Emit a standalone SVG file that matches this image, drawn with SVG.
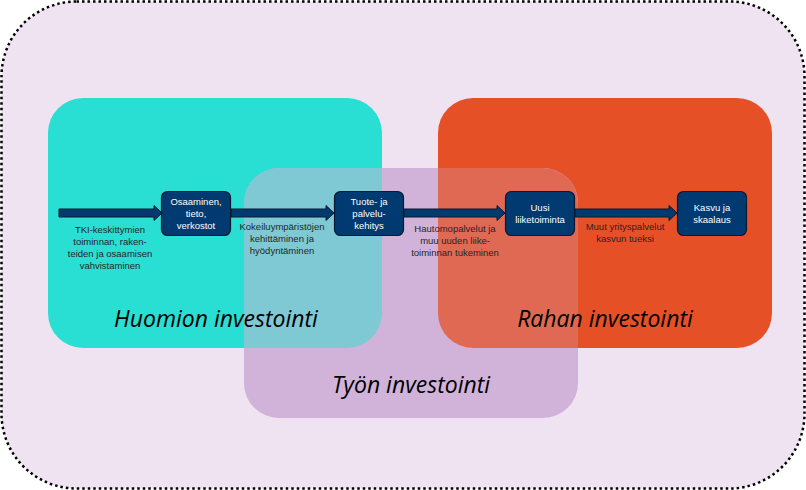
<svg xmlns="http://www.w3.org/2000/svg" width="806" height="490" viewBox="0 0 806 490">
<style>
.node{fill:#003A70;stroke:#0a1a2e;stroke-width:1.2}
.nt{font-family:"Liberation Sans",Arial,sans-serif;font-size:9.5px;fill:#ffffff;text-anchor:middle}
.lt{font-family:"Liberation Sans",Arial,sans-serif;font-size:9.5px;fill:#262626;text-anchor:middle}
.big{font-family:"Open Sans","Liberation Sans",sans-serif;font-style:italic;font-size:23px;fill:#000;text-anchor:middle}
.arr{fill:#003A70;stroke:#0a1a2e;stroke-width:1}
</style>
<defs>
<clipPath id="clipCyan"><rect x="48" y="98" width="334" height="250" rx="35"/></clipPath>
<clipPath id="clipOrange"><rect x="438" y="98" width="334" height="250" rx="35"/></clipPath>
</defs>
<g id="background">
<rect x="1.5" y="1.5" width="803" height="487" rx="75" ry="75" fill="#EFE3F1" stroke="#000" stroke-width="2.5" stroke-dasharray="2.5 3"/>
</g>
<g id="areas">
<rect id="huomion" x="48" y="98" width="334" height="250" rx="35" fill="#29DED3"/>
<rect id="rahan" x="438" y="98" width="334" height="250" rx="35" fill="#E65026"/>
<g id="tyon">
<rect x="244" y="168" width="334" height="250" rx="35" fill="#D1B3D9"/>
<rect x="244" y="168" width="334" height="250" rx="35" fill="#7FC9D5" clip-path="url(#clipCyan)"/>
<rect x="244" y="168" width="334" height="250" rx="35" fill="#E06953" clip-path="url(#clipOrange)"/>
</g>
</g>
<g id="connectors">
<path class="arr" d="M59,209 H154 V205.5 L162,213 L154,220.5 V217 H59 Z"/>
<path class="arr" d="M231,209 H326 V205.5 L334,213 L326,220.5 V217 H231 Z"/>
<path class="arr" d="M404,209 H497 V205.5 L505,213 L497,220.5 V217 H404 Z"/>
<path class="arr" d="M575,209 H669 V205.5 L677,213 L669,220.5 V217 H575 Z"/>
</g>
<g id="labels">
<text class="lt" x="110" y="233">TKI-keskittymien</text>
<text class="lt" x="110" y="245">toiminnan, raken-</text>
<text class="lt" x="110" y="257">teiden ja osaamisen</text>
<text class="lt" x="110" y="269">vahvistaminen</text>
<text class="lt" x="282" y="230">Kokeiluympäristöjen</text>
<text class="lt" x="282" y="242">kehittäminen ja</text>
<text class="lt" x="282" y="254">hyödyntäminen</text>
<text class="lt" x="455" y="232">Hautomopalvelut ja</text>
<text class="lt" x="455" y="244">muu uuden liike-</text>
<text class="lt" x="455" y="256">toiminnan tukeminen</text>
<text class="lt" x="625" y="230">Muut yrityspalvelut</text>
<text class="lt" x="625" y="242">kasvun tueksi</text>
</g>
<g id="n1">
<rect class="node" x="161.5" y="191.5" width="69" height="44" rx="6"/>
<text class="nt" x="196" y="205">Osaaminen,</text>
<text class="nt" x="196" y="217">tieto,</text>
<text class="nt" x="196" y="229">verkostot</text>
</g>
<g id="n2">
<rect class="node" x="334.5" y="191.5" width="69" height="44" rx="6"/>
<text class="nt" x="369" y="205">Tuote- ja</text>
<text class="nt" x="369" y="217">palvelu-</text>
<text class="nt" x="369" y="229">kehitys</text>
</g>
<g id="n3">
<rect class="node" x="505.5" y="191.5" width="69" height="44" rx="6"/>
<text class="nt" x="540" y="211">Uusi</text>
<text class="nt" x="540" y="223">liiketoiminta</text>
</g>
<g id="n4">
<rect class="node" x="677.5" y="191.5" width="69" height="44" rx="6"/>
<text class="nt" x="712" y="211">Kasvu ja</text>
<text class="nt" x="712" y="223">skaalaus</text>
</g>
<g id="titles">
<text class="big" x="216" y="327">Huomion investointi</text>
<text class="big" x="605" y="327">Rahan investointi</text>
<text class="big" x="411" y="393">Työn investointi</text>
</g>
</svg>
